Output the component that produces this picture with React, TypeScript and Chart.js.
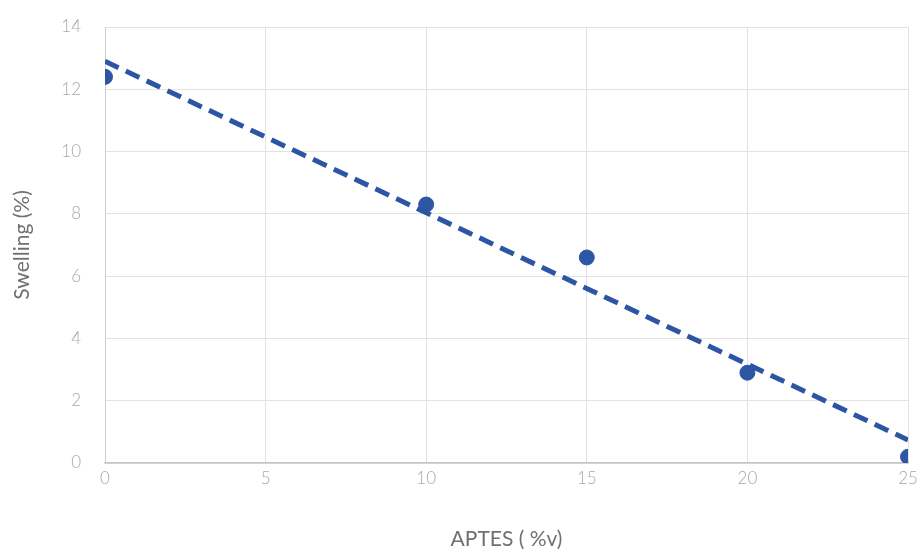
import React, { useEffect, useRef } from "react";
import { Chart, registerables } from "chart.js";
Chart.register(...registerables);

const aptes = [0, 10, 15, 20, 25];
const swelling = [12.4, 8.3, 6.6, 2.9, 0.2];
const trendX = [0, 25];
const trendY = [12.9, 0.74];
const xTicks = [0, 5, 10, 15, 20, 25];
const yTicks = [0, 2, 4, 6, 8, 10, 12, 14];

export default function App() {
  const ref = useRef<HTMLCanvasElement>(null);
  useEffect(() => {
    document.body.style.margin = "0";
    const ctx = ref.current!;
    const chart = new Chart(ctx, {
      type: "scatter",
      data: {
        datasets: [
          {
            type: "line",
            data: trendX.map((x, i) => ({ x, y: trendY[i] })),
            borderColor: "#2c55a6",
            borderWidth: 5,
            borderDash: [15, 8],
            pointRadius: 0,
            fill: false,
          },
          {
            data: aptes.map((x, i) => ({ x, y: swelling[i] })),
            backgroundColor: "#2f56a5",
            borderColor: "#2f56a5",
            pointRadius: 7.5,
          },
        ],
      },
      options: {
        animation: false,
        responsive: false,
        maintainAspectRatio: false,
        layout: { padding: { top: 27, right: 13, left: 10, bottom: 0 } },
        plugins: { legend: { display: false }, tooltip: { enabled: false } },
        scales: {
          x: {
            type: "linear",
            min: 0,
            max: 25,
            afterBuildTicks: (s: any) => {
              s.ticks = xTicks.map((v) => ({ value: v }));
            },
            afterFit: (s: any) => {
              s.height = 89;
              s.paddingLeft = 0;
              s.paddingRight = 0;
            },
            grid: { color: "#e2e2e2", drawTicks: false, lineWidth: 1 },
            border: { color: "#c4c4c4", width: 1.5 },
            ticks: {
              color: "#a8a8a8",
              padding: 5,
              font: { family: "Lato", size: 17, weight: 300 },
            },
            title: {
              display: true,
              text: "APTES ( %v)",
              color: "#707070",
              padding: { top: 20, bottom: 0 },
              font: { family: "Lato", size: 21, weight: 400 },
            },
          },
          y: {
            type: "linear",
            min: 0,
            max: 14,
            afterBuildTicks: (s: any) => {
              s.ticks = yTicks.map((v) => ({ value: v }));
            },
            afterFit: (s: any) => {
              s.width = 95;
              s.paddingTop = 0;
              s.paddingBottom = 0;
            },
            grid: { color: "#e2e2e2", drawTicks: false, lineWidth: 1 },
            border: { color: "#d0d0d0", width: 1 },
            ticks: {
              color: "#a8a8a8",
              padding: 24,
              font: { family: "Lato", size: 17, weight: 300 },
            },
            title: {
              display: true,
              text: "Swelling (%)",
              color: "#707070",
              padding: { top: 0, bottom: 20 },
              font: { family: "Lato", size: 21, weight: 400 },
            },
          },
        },
      },
    } as any);
    return () => chart.destroy();
  }, []);
  return <canvas ref={ref} width={921} height={552} style={{ display: "block" }} />;
}
